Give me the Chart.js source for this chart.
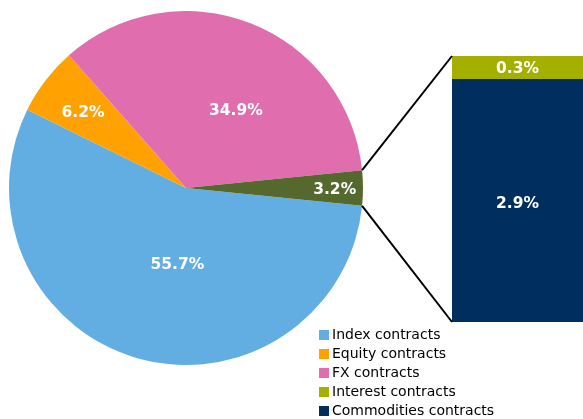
<!DOCTYPE html>
<html>
<head>
<meta charset="utf-8">
<script src="https://cdn.jsdelivr.net/npm/chart.js@4"></script>
<style>
  html, body { margin: 0; padding: 0; background: #ffffff; }
  body { width: 583px; height: 419px; position: relative; overflow: hidden; font-family: "DejaVu Sans", Verdana, sans-serif; }
  #pie { position: absolute; left: 9px; top: 11px; }
  #bar { position: absolute; left: 452px; top: 56px; }
  #links { position: absolute; left: 0; top: 0; pointer-events: none; }
  #legend { position: absolute; left: 319px; top: 325px; font-size: 14px; color: #000; }
  #legend .item { height: 19px; line-height: 19px; white-space: nowrap; display: flex; align-items: center; }
  #legend .sw { width: 10px; height: 10px; margin-right: 3px; flex: none; }
</style>
</head>
<body>
<canvas id="pie" width="354" height="354"></canvas>
<canvas id="bar" width="131" height="266"></canvas>
<canvas id="links" width="583" height="419"></canvas>
<div id="legend"></div>
<script>
// ---- Data ----
const pieCategories = ["Index contracts", "Equity contracts", "FX contracts", "Other contracts"];
const pieValues = [55.7, 6.2, 34.9, 3.2];
const barCategories = ["Commodities contracts", "Interest contracts"]; // bottom to top
const barValues = [2.92, 0.28];
const legendCategories = ["Index contracts", "Equity contracts", "FX contracts", "Interest contracts", "Commodities contracts"];

// ---- Styles ----
const pieColors = ["#62AEE2", "#FFA100", "#E06EAF", "#55692E"];
const barColors = ["#002F5F", "#A5AF00"];
const legendColors = ["#62AEE2", "#FFA100", "#E06EAF", "#A5AF00", "#002F5F"];
// label placement per slice: angle shift (deg) and radius fraction
const pieLabelShift = [-9.7, -1.3, 11.4, 0.7];
const pieLabelRadius = [0.44, 0.72, 0.52, 0.84];
const labelFont = "bold 15.5px 'DejaVu Sans', Verdana, sans-serif";

const otherShare = pieValues[3] / pieValues.reduce((a, b) => a + b, 0);
const rotationDeg = 90 + otherShare * 180; // Index starts just below "Other" centred on the east

const pieLabels = {
  id: 'pieLabels',
  afterDatasetsDraw(chart) {
    const ctx = chart.ctx;
    const meta = chart.getDatasetMeta(0);
    ctx.save();
    ctx.font = labelFont;
    ctx.fillStyle = '#ffffff';
    ctx.textAlign = 'center';
    ctx.textBaseline = 'middle';
    meta.data.forEach((arc, i) => {
      const mid = (arc.startAngle + arc.endAngle) / 2 + pieLabelShift[i] * Math.PI / 180;
      const r = arc.outerRadius * pieLabelRadius[i];
      ctx.fillText(pieValues[i].toFixed(1) + '%', arc.x + r * Math.cos(mid), arc.y + r * Math.sin(mid));
    });
    ctx.restore();
  }
};

const barLabels = {
  id: 'barLabels',
  afterDatasetsDraw(chart) {
    const ctx = chart.ctx;
    ctx.save();
    ctx.font = labelFont;
    ctx.fillStyle = '#ffffff';
    ctx.textAlign = 'center';
    ctx.textBaseline = 'middle';
    chart.data.datasets.forEach((ds, di) => {
      const el = chart.getDatasetMeta(di).data[0];
      ctx.fillText(ds.data[0].toFixed(1) + '%', el.x, (el.y + el.base) / 2 + (di === 0 ? 3 : 1));
    });
    ctx.restore();
  }
};

const pieChart = new Chart(document.getElementById('pie'), {
  type: 'pie',
  data: {
    labels: pieCategories,
    datasets: [{ data: pieValues, backgroundColor: pieColors, borderWidth: 0 }]
  },
  options: {
    responsive: false,
    animation: false,
    rotation: rotationDeg,
    layout: { padding: 0 },
    plugins: { legend: { display: false }, tooltip: { enabled: false } }
  },
  plugins: [pieLabels]
});

const barChart = new Chart(document.getElementById('bar'), {
  type: 'bar',
  data: {
    labels: ["Other"],
    datasets: barCategories.map((c, i) => ({
      label: c, data: [barValues[i]], backgroundColor: barColors[i], borderWidth: 0,
      barPercentage: 1, categoryPercentage: 1
    }))
  },
  options: {
    responsive: false,
    animation: false,
    layout: { padding: 0 },
    scales: {
      x: { stacked: true, display: false },
      y: { stacked: true, display: false, min: 0, max: barValues.reduce((a, b) => a + b, 0) }
    },
    plugins: { legend: { display: false }, tooltip: { enabled: false } }
  },
  plugins: [barLabels]
});

// ---- connector lines ----
(function drawLinks() {
  const pieC = document.getElementById('pie');
  const barC = document.getElementById('bar');
  const ctx = document.getElementById('links').getContext('2d');
  const arc = pieChart.getDatasetMeta(0).data[3];
  const px = pieC.offsetLeft, py = pieC.offsetTop;
  const bx = barC.offsetLeft, by = barC.offsetTop;
  const topEl = barChart.getDatasetMeta(1).data[0];
  const botEl = barChart.getDatasetMeta(0).data[0];
  const left = bx + topEl.x - topEl.width / 2;
  const p1 = [px + arc.x + arc.outerRadius * Math.cos(arc.startAngle), py + arc.y + arc.outerRadius * Math.sin(arc.startAngle)];
  const p2 = [px + arc.x + arc.outerRadius * Math.cos(arc.endAngle), py + arc.y + arc.outerRadius * Math.sin(arc.endAngle)];
  ctx.strokeStyle = '#000000';
  ctx.lineWidth = 2;
  ctx.beginPath();
  ctx.moveTo(p1[0], p1[1]); ctx.lineTo(left, by + topEl.y);
  ctx.moveTo(p2[0], p2[1]); ctx.lineTo(left, by + botEl.base);
  ctx.stroke();
})();

// ---- legend ----
const legendEl = document.getElementById('legend');
legendCategories.forEach((c, i) => {
  const item = document.createElement('div');
  item.className = 'item';
  const sw = document.createElement('span');
  sw.className = 'sw';
  sw.style.background = legendColors[i];
  const tx = document.createElement('span');
  tx.textContent = c;
  item.appendChild(sw); item.appendChild(tx);
  legendEl.appendChild(item);
});
</script>
</body>
</html>
